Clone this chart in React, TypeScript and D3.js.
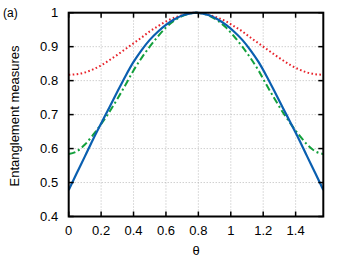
import { useEffect, useRef } from "react";
import * as d3 from "d3";

// theta samples (rad)
const thetas = [
  0, 0.05, 0.1, 0.15, 0.2, 0.25, 0.3, 0.35, 0.4, 0.45, 0.5, 0.55, 0.6, 0.65, 0.7, 0.75, 0.785,
  0.821, 0.871, 0.921, 0.971, 1.021, 1.071, 1.121, 1.171, 1.221, 1.271, 1.321, 1.371, 1.421,
  1.471, 1.521, 1.571,
];
const blueSeries = [
  0.478, 0.528, 0.577, 0.627, 0.674, 0.72, 0.767, 0.813, 0.855, 0.89, 0.92, 0.944, 0.964, 0.98,
  0.992, 0.998, 1.0, 0.998, 0.992, 0.98, 0.964, 0.944, 0.92, 0.89, 0.855, 0.813, 0.767, 0.72,
  0.674, 0.627, 0.577, 0.528, 0.478,
];
const greenSeries = [
  0.584, 0.592, 0.612, 0.64, 0.672, 0.707, 0.746, 0.787, 0.83, 0.867, 0.9, 0.93, 0.956, 0.976,
  0.99, 0.998, 1.0, 0.998, 0.99, 0.976, 0.956, 0.93, 0.9, 0.867, 0.83, 0.787, 0.746, 0.707,
  0.672, 0.64, 0.612, 0.592, 0.584,
];
const redSeries = [
  0.817, 0.819, 0.824, 0.833, 0.845, 0.86, 0.876, 0.893, 0.91, 0.927, 0.945, 0.96, 0.974, 0.985,
  0.993, 0.998, 1.0, 0.998, 0.993, 0.985, 0.974, 0.96, 0.945, 0.927, 0.91, 0.893, 0.876, 0.86,
  0.845, 0.833, 0.824, 0.819, 0.817,
];
const xTicks = [0, 0.2, 0.4, 0.6, 0.8, 1, 1.2, 1.4];
const yTicks = [0.4, 0.5, 0.6, 0.7, 0.8, 0.9, 1];

const W = 350;
const H = 261;
const FONT = "'Liberation Sans', Arial, Helvetica, sans-serif";

function drawChart(svgEl: SVGSVGElement) {
  const svg = d3.select(svgEl);
  svg.selectAll("*").remove();

  const m = { left: 68.7, right: 26.7, top: 12.7, bottom: 44.5 };
  const x = d3.scaleLinear().domain([0, Math.PI / 2]).range([m.left, W - m.right]);
  const y = d3.scaleLinear().domain([0.4, 1]).range([H - m.bottom, m.top]);
  const [x0, x1] = x.range();
  const [y0, y1] = y.range();

  svg.append("rect").attr("width", W).attr("height", H).attr("fill", "#fff");

  // grid
  const grid = svg.append("g").attr("stroke", "#a8a8a8").attr("stroke-width", 0.8)
    .attr("stroke-dasharray", "1,2");
  grid.selectAll(".gx").data(xTicks.slice(1)).join("line")
    .attr("x1", (d) => x(d)).attr("x2", (d) => x(d)).attr("y1", y0).attr("y2", y1);
  grid.selectAll(".gy").data(yTicks.slice(1, -1)).join("line")
    .attr("x1", x0).attr("x2", x1).attr("y1", (d) => y(d)).attr("y2", (d) => y(d));

  svg.append("clipPath").attr("id", "plotclip").append("rect")
    .attr("x", x0).attr("y", y1 - 2).attr("width", x1 - x0).attr("height", y0 - y1 + 2);

  const line = d3.line<number>()
    .x((_, i) => x(thetas[i]))
    .y((d) => y(d))
    .curve(d3.curveMonotoneX);

  const curves = svg.append("g").attr("clip-path", "url(#plotclip)").attr("fill", "none");
  curves.append("path").datum(redSeries).attr("d", line)
    .attr("stroke", "#e8222a").attr("stroke-width", 2).attr("stroke-dasharray", "1.6,2.4");
  curves.append("path").datum(greenSeries).attr("d", line)
    .attr("stroke", "#13a03c").attr("stroke-width", 2).attr("stroke-dasharray", "7,3,2,3");
  curves.append("path").datum(blueSeries).attr("d", line)
    .attr("stroke", "#0a5fb0").attr("stroke-width", 2.2);

  // ticks, mirrored on all sides
  const tl = 5;
  const ticks = svg.append("g").attr("stroke", "#000").attr("stroke-width", 1.5);
  xTicks.forEach((t) => {
    ticks.append("line").attr("x1", x(t)).attr("x2", x(t)).attr("y1", y0).attr("y2", y0 - tl);
    ticks.append("line").attr("x1", x(t)).attr("x2", x(t)).attr("y1", y1).attr("y2", y1 + tl);
  });
  yTicks.forEach((t) => {
    ticks.append("line").attr("x1", x0).attr("x2", x0 + tl).attr("y1", y(t)).attr("y2", y(t));
    ticks.append("line").attr("x1", x1).attr("x2", x1 - tl).attr("y1", y(t)).attr("y2", y(t));
  });

  svg.append("rect").attr("x", x0).attr("y", y1).attr("width", x1 - x0).attr("height", y0 - y1)
    .attr("fill", "none").attr("stroke", "#000").attr("stroke-width", 2);

  const fmt = (d: number) => d3.format("~g")(d);
  const labels = svg.append("g").attr("font-family", FONT).attr("font-size", 13).attr("fill", "#000");
  labels.selectAll(".xl").data(xTicks).join("text")
    .attr("x", (d) => x(d)).attr("y", y0 + 18.5).attr("text-anchor", "middle").text(fmt);
  labels.selectAll(".yl").data(yTicks).join("text")
    .attr("x", x0 - 10.5).attr("y", (d) => y(d) + 4.6).attr("text-anchor", "end").text(fmt);

  labels.append("text").attr("x", (x0 + x1) / 2).attr("y", y0 + 38.5)
    .attr("text-anchor", "middle").text("θ");
  labels.append("text").attr("transform", `translate(19,116) rotate(-90)`)
    .attr("text-anchor", "middle").text("Entanglement measures");
  labels.append("text").attr("x", 3).attr("y", 17).attr("font-size", 12).text("(a)");
}

export default function App() {
  const ref = useRef<SVGSVGElement>(null);
  useEffect(() => {
    if (ref.current) drawChart(ref.current);
  }, []);
  return (
    <div style={{ position: "fixed", left: 0, top: 0 }}>
      <svg ref={ref} width={W} height={H} style={{ display: "block" }} />
    </div>
  );
}
